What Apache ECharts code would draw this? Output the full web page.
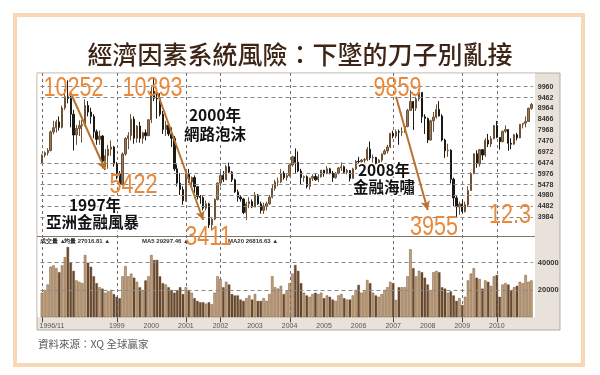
<!DOCTYPE html>
<html><head><meta charset="utf-8">
<script src="https://cdn.jsdelivr.net/npm/echarts@6/dist/echarts.min.js"></script>
<style>html,body{margin:0;padding:0;background:#fff}#c{width:600px;height:375px}</style>
</head><body><div id="c"></div>
<script>
// ---- DATA (monthly TAIEX, 1996/11 - 2011/1) ----
const startYear = 1996, startMonth = 11;
const open = [6460,6830,6933,7040,7890,8080,8350,8100,8990,9500,9420,8700,7750,8050,8187,8240,9100,8800,8600,7900,7550,7700,6550,6800,7100,7200,
6418,5990,5474,6880,7590,7720,8470,7600,8160,7600,7850,7720,
8448,9744,9430,9400,8700,8000,8200,7800,7600,6200,5550,5250,
4739,5936,5600,5800,5380,4940,4880,4400,4600,3636,3900,4800,
5551,5900,5700,6300,6050,5700,5150,4900,4820,4200,4600,4700,
4452,5000,4600,4300,4500,4600,4900,5300,5600,5610,6000,5800,
5890,6375,6750,6500,6100,5800,5840,5400,5770,5850,5700,5840,
6140,5990,6200,6000,5800,6000,6240,6300,6040,6120,5760,6200,
6548,6530,6600,6620,7100,6700,6720,6450,6600,6880,7020,7200,
7823,7700,7900,7880,7900,8140,8880,9280,8980,9400,9700,8580,
8506,7520,8400,8570,8920,8620,7520,7030,7050,5720,4870,4460,
4591,4248,4557,5210,5990,6890,6430,7080,6830,7510,7340,7580,
8188,7640,7440,7920,8000,7370,7330,7760,7620,8240,8290,8370,
8972];
const close = [6830,6933,7040,7890,8080,8350,8100,8990,9500,9420,8700,7750,8050,8187,8240,9100,8800,8600,7900,7550,7700,6550,6800,7100,7200,6418,
5990,5474,6880,7590,7720,8470,7600,8160,7600,7850,7720,8448,
9744,9430,9400,8700,8000,8200,7800,7600,6200,5550,5250,4739,
5936,5600,5800,5380,4940,4880,4400,4600,3636,3900,4800,5551,
5900,5700,6300,6050,5700,5150,4900,4820,4200,4600,4700,4452,
5000,4600,4300,4500,4600,4900,5300,5600,5610,6000,5800,5890,
6375,6750,6500,6100,5800,5840,5400,5770,5850,5700,5840,6140,
5990,6200,6000,5800,6000,6240,6300,6040,6120,5760,6200,6548,
6530,6600,6620,7100,6700,6720,6450,6600,6880,7020,7200,7823,
7700,7900,7880,7900,8140,8880,9280,8980,9400,9700,8580,8506,
7520,8400,8570,8920,8620,7520,7030,7050,5720,4870,4460,4591,
4248,4557,5210,5990,6890,6430,7080,6830,7510,7340,7580,8188,
7640,7440,7920,8000,7370,7330,7760,7620,8240,8290,8370,8972,
9145];
const low = [6430,6720,6810,7000,7780,7860,7950,8050,8900,9200,8100,7040,7300,7700,7400,8150,8600,8270,7600,7300,7300,6220,6300,6200,6800,6300,
5720,5422,5450,6800,7100,7500,7350,7400,7400,7350,7500,7700,
8300,9300,8500,8600,7800,7700,7700,7200,6100,5400,5000,4555,
4700,5550,5300,5100,4800,4600,4300,4300,3493,3411,3850,4750,
5400,5600,5690,6000,5600,5100,4700,4700,4130,3850,4400,4400,
4450,4550,4150,4140,4300,4550,4850,5200,5400,5550,5700,5650,
5850,6300,6000,6050,5500,5600,5300,5250,5650,5650,5600,5800,
5840,5950,5950,5600,5750,5950,6100,5970,5950,5620,5750,6150,
6400,6400,6450,6550,6600,6250,6250,6350,6500,6850,6900,7150,
7600,7600,7300,7700,7850,8100,8850,7980,8850,9300,8300,7800,
7380,7500,7900,8500,8600,7450,6700,6750,5530,4500,3955,4100,
4160,4200,4450,5200,5950,6250,6300,6600,6750,7200,7200,7550,
7600,7080,7430,7850,7030,7100,7300,7500,7600,8050,8100,8350,
8900];
const high = [6860,7000,7150,7950,8400,8450,8600,9100,9850,10252,9700,8900,8200,8420,8440,9380,9300,9000,8700,8000,7950,7750,7100,7300,7500,7250,
6520,6100,6950,7650,7880,8700,8600,8200,8350,7900,8000,8460,
10000,10393,9800,9660,8850,8400,8300,8100,7700,6400,6000,5400,
6000,6200,5850,5900,5400,5000,4950,4750,4650,3950,4850,5580,
6050,6100,6380,6484,6100,5750,5250,5000,4850,4700,4900,4800,
5140,5050,4700,4650,4700,5000,5500,5700,5800,6200,6100,6000,
6400,6800,7135,7000,6200,5900,5900,5800,5950,6000,5950,6150,
6150,6320,6250,6100,6050,6280,6500,6350,6200,6150,6250,6600,
6750,6650,6700,7200,7450,6850,6750,6650,6900,7100,7300,7850,
7950,8000,8000,8100,8200,8950,9800,9300,9500,9859,9700,8700,
8550,8450,8800,9150,9300,8700,7580,7350,7100,5800,5000,4700,
4800,4700,5400,6050,6900,7050,7100,7100,7600,7800,7700,8200,
8395,7650,7950,8190,8000,7600,7800,7850,8250,8300,8600,9000,
9220];
const volume = [18000,20000,24000,37000,38000,36000,33000,38000,44000,51500,40000,34000,27000,26000,25000,45600,40000,37000,30000,25000,22000,21000,18000,19000,20000,17000,
15000,14000,30000,37500,30000,32000,29000,26000,22000,20000,27000,30000,
45600,42000,42000,30000,25000,24000,22000,20000,18000,20000,22000,17000,
22000,20000,18000,14000,12000,11000,11000,10000,11000,9500,18000,30000,
28000,22000,26000,24000,17000,16000,16000,13000,12000,14000,16000,13000,
17000,12000,12000,14000,12000,17000,30000,22000,21000,23000,17000,19000,
25000,32000,38300,34000,25000,18000,16000,15000,17000,18000,17000,18000,
14000,16000,15000,13000,12000,16000,17000,14000,13000,13000,16000,20000,
23700,18000,19000,27300,25000,18000,16000,15000,17000,20000,22000,26000,
25000,12700,22000,22000,22000,30000,49800,36000,30000,34000,33000,29000,
24000,20000,33000,34000,33000,22000,21000,18000,19000,16000,12000,14000,
9000,15000,27000,32000,36000,29000,28000,21000,27000,26000,23000,30000,
31000,15000,24000,25000,24000,20000,22000,23000,26000,25000,31000,26000,
27000];
const priceTicks = [3984,4482,4980,5478,5976,6474,6972,7470,7968,8466,8964,9462,9960];
const priceGridLines = [9960,9462,6474,5976,5478,4980,4482,3984];
const volumeTicks = [20000,40000];
const labelYears = ['1999','2000','2001','2002','2003','2004','2005','2006','2007','2008','2009','2010'];
const gridLineMonths = ['1996/11','1999/1','2001/1','2002/1','2004/1','2007/1','2009/1','2010/1'];
// arrows: [from [monthIndex, value], to [monthIndex, value]]
const arrows = [[[10,9672],[22,6147]],[[40,9717],[56,3859]],[[123,9502],[134,4317]]];

const months = [];
for (let i = 0; i < close.length; i++) {
  const m = startMonth - 1 + i;
  months.push((startYear + Math.floor(m / 12)) + '/' + (m % 12 + 1));
}
const candles = months.map((_, i) => [open[i], close[i], low[i], high[i]]);

const P_MIN = 3127, P_MAX = 10587, V_MAX = 55900;
const UP = '#9a7855', DOWN = '#1c1814';
const VUP = '#c6a278', VDOWN = '#6b4a2d';
const ORANGE = '#e8893b', ARROW = '#b8712e';

const labelIdx = (i, v) => i === 0 || (v.endsWith('/1') && labelYears.includes(v.split('/')[0]));

const chart = echarts.init(document.getElementById('c'), null, {renderer: 'canvas'});

const orangeTexts = [
  ['10252', 73.5, 89], ['10393', 152.5, 89], ['9859', 397.5, 89],
  ['5422', 133.5, 186], ['3411', 208.5, 238], ['3955', 434, 227.5], ['12.3', 510, 215.5]
];
const blackTexts = [
  ['1997年', 95, 205], ['亞洲金融風暴', 92.5, 222],
  ['2000年', 215, 115], ['網路泡沫', 215, 134],
  ['2008年', 384, 170], ['金融海嘯', 384, 187]
];
const maTexts = [['成交量 ▲', 40], ['均量 27016.81 ▲', 64], ['MA5 29297.46 ▲', 142], ['MA20 26816.63 ▲', 228]];

const graphics = [
  {type:'rect', id:'bg0', z:-20, shape:{x:15, y:15, width:568, height:350}, style:{fill:'#fff', stroke:'#f7d8b6', lineWidth:4}},
  {type:'rect', id:'bg1', z:-19, shape:{x:37, y:73, width:523, height:257}, style:{fill:'#e8e2da', stroke:'#b7aca0', lineWidth:1}},
  {type:'rect', id:'bg2', z:-18, shape:{x:37.5, y:73.5, width:497.5, height:243.8}, style:{fill:'#fff'}},
  {type:'line', id:'sep', z:5, shape:{x1:37, y1:236.5, x2:535, y2:236.5}, style:{stroke:'#857565', lineWidth:1.2}},
  {type:'text', id:'title', z:10, x:300, y:54, style:{text:'經濟因素系統風險：下墜的刀子別亂接', fill:'#3d2414', font:'500 25px "Noto Sans CJK TC", sans-serif', align:'center', verticalAlign:'middle'}},
  {type:'text', id:'src', z:10, x:38, y:344, style:{text:'資料來源：XQ 全球贏家', fill:'#5a5a5a', font:'10.5px "Noto Sans CJK TC", sans-serif', align:'left', verticalAlign:'middle'}}
];
maTexts.forEach((t, k) => graphics.push({type:'text', id:'ma' + k, z:6, x:t[1], y:241, style:{text:t[0], fill:'#333', font:'bold 6px "Liberation Sans", sans-serif', align:'left', verticalAlign:'middle'}}));
blackTexts.forEach((t, k) => graphics.push({type:'text', id:'bt' + k, z:20, x:t[1], y:t[2], style:{text:t[0], fill:'#111', font:'bold 15.5px "Noto Sans CJK TC", sans-serif', align:'center', verticalAlign:'middle', stroke:'#fff', lineWidth:3}}));
orangeTexts.forEach((t, k) => graphics.push({type:'text', id:'ot' + k, z:30, x:t[1], y:t[2], scaleX:0.8, style:{text:t[0], fill:ORANGE, font:'27px "Liberation Sans", sans-serif', align:'center', verticalAlign:'middle'}}));

const dashed = {type:[4,3], color:'#8a8a8a', width:1};

chart.setOption({
  animation: false,
  backgroundColor: '#fff',
  graphic: graphics,
  grid: [
    {left:40.5, right:67.2, top:73, bottom:139},
    {left:40.5, right:67.2, top:241, bottom:57.7}
  ],
  xAxis: [
    {type:'category', gridIndex:0, data:months, boundaryGap:true, z:3,
     axisLine:{show:false}, axisTick:{show:false}, axisLabel:{show:false}, splitLine:{show:false}},
    {type:'category', gridIndex:1, data:months, boundaryGap:true, z:3,
     axisLine:{show:false}, axisTick:{show:false},
     axisLabel:{show:true, interval:labelIdx, margin:5, fontSize:7, color:'#555', fontFamily:'Liberation Sans',
       formatter:(v, i) => i === 0 ? '{l|' + v + '}' : v.split('/')[0],
       rich:{l:{padding:[0,0,0,20], fontSize:7, color:'#555', fontFamily:'Liberation Sans'}}},
     splitLine:{show:false}}
  ],
  yAxis: [
    {type:'value', gridIndex:0, position:'right', min:P_MIN, max:P_MAX, scale:true, z:3,
     axisLine:{show:false}, axisTick:{show:false}, splitLine:{show:false},
     axisLabel:{customValues:priceTicks, formatter:v => String(v), margin:5, fontSize:7, fontWeight:'bold', color:'#333', fontFamily:'Liberation Sans'}},
    {type:'value', gridIndex:1, position:'right', min:0, max:V_MAX, z:3,
     axisLine:{show:false}, axisTick:{show:false}, splitLine:{show:false},
     axisLabel:{customValues:volumeTicks, formatter:v => String(v), margin:5, fontSize:7.5, fontWeight:'bold', color:'#333', fontFamily:'Liberation Sans'}}
  ],
  series: [
    {type:'candlestick', xAxisIndex:0, yAxisIndex:0, data:candles, barWidth:'62%',
     itemStyle:{color:UP, color0:DOWN, borderColor:'#6e5034', borderColor0:DOWN, borderWidth:1},
     markLine:{silent:true, symbol:['none','none'], label:{show:false}, animation:false,
       data: priceGridLines.map(v => ({yAxis:v, lineStyle:dashed}))
         .concat(arrows.map(a => [
           {coord:a[0], symbol:'none', lineStyle:{color:ARROW, width:2, type:'solid'}},
           {coord:a[1], symbol:'arrow', symbolSize:[7,9]}
         ]))}},
    {type:'bar', xAxisIndex:1, yAxisIndex:1, data:volume, barCategoryGap:'15%',
     itemStyle:{color: p => close[p.dataIndex] >= open[p.dataIndex] ? VUP : VDOWN, borderColor:'#5a3d24', borderWidth:0.4},
     markLine:{silent:true, symbol:['none','none'], label:{show:false}, animation:false,
       data: volumeTicks.map(v => ({yAxis:v, lineStyle:dashed}))}}
  ]
});

// vertical year dashed lines + bottom tick marks, positioned through the axes
const yTop = chart.convertToPixel({yAxisIndex:0}, P_MAX);
const yMid = chart.convertToPixel({yAxisIndex:0}, P_MIN);
const yVolTop = chart.convertToPixel({yAxisIndex:1}, V_MAX);
const yVolBot = chart.convertToPixel({yAxisIndex:1}, 0);
const extra = [];
gridLineMonths.forEach((m, k) => {
  const idx = months.indexOf(m);
  const x = Math.round(chart.convertToPixel({xAxisIndex:1}, idx)) + 0.5;
  extra.push({type:'line', id:'vl' + k, z:-5, shape:{x1:x, y1:yTop, x2:x, y2:yVolBot}, style:{stroke:'#6f6f6f', lineWidth:1, lineDash:[3,3]}});
  extra.push({type:'line', id:'tk' + k, z:8, shape:{x1:x, y1:yVolBot, x2:x, y2:yVolBot + 5}, style:{stroke:'#444', lineWidth:1}});
});
chart.setOption({graphic: graphics.concat(extra)});
</script></body></html>
